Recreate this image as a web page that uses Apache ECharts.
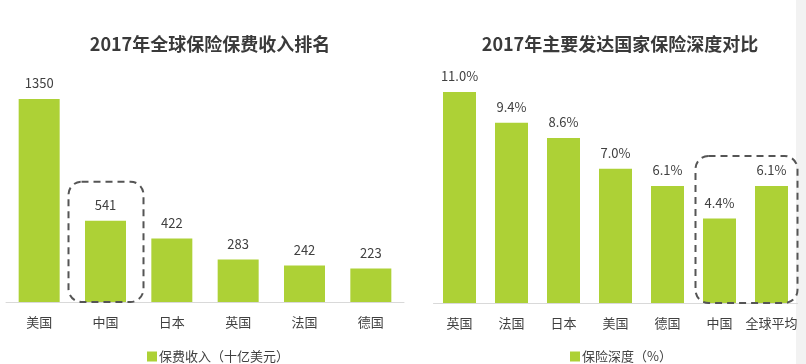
<!DOCTYPE html>
<html><head><meta charset="utf-8">
<script src="https://cdn.jsdelivr.net/npm/echarts@6/dist/echarts.min.js"></script>
<style>html,body{margin:0;padding:0;background:#fff}#c{width:806px;height:364px}</style>
</head><body><div id="c"></div>
<script>
const leftTitle = '2017年全球保险保费收入排名';
const rightTitle = '2017年主要发达国家保险深度对比';
const leftCats = ['美国','中国','日本','英国','法国','德国'];
const leftVals = [1350, 541, 422, 283, 242, 223];
const leftName = '保费收入（十亿美元）';
const rightCats = ['英国','法国','日本','美国','德国','中国','全球平均'];
const rightVals = [11.0, 9.4, 8.6, 7.0, 6.1, 4.4, 6.1];
const rightName = '保险深度（%）';

const green = '#add136';
const txt = '#404040';
const font = '"Noto Sans CJK SC", "Noto Sans", sans-serif';

const chart = echarts.init(document.getElementById('c'));
const catAxis = (i, data) => ({
  type: 'category', gridIndex: i, data,
  axisLine: {lineStyle: {color: '#d9d9d9', width: 1}},
  axisTick: {show: false},
  axisLabel: {color: txt, fontSize: 13, fontFamily: font, margin: 14, interval: 0}
});
const valAxis = (i, max) => ({
  type: 'value', gridIndex: i, min: 0, max, show: false, splitLine: {show: false}
});
chart.setOption({
  animation: false,
  textStyle: {fontFamily: font},
  title: [
    {text: leftTitle, left: 205, top: 30, textAlign: 'center',
     textStyle: {fontSize: 18, fontWeight: 'bold', color: '#3a3a3a', fontFamily: font}},
    {text: rightTitle, left: 615, top: 30, textAlign: 'center',
     textStyle: {fontSize: 18, fontWeight: 'bold', color: '#3a3a3a', fontFamily: font}}
  ],
  legend: [
    {data: [leftName], left: 142, top: 345, itemWidth: 10, itemHeight: 10,
     textStyle: {color: txt, fontSize: 13, fontFamily: font, padding: [0,0,0,-3]}, icon: 'rect'},
    {data: [rightName], left: 565, top: 345, itemWidth: 10, itemHeight: 10,
     textStyle: {color: txt, fontSize: 13, fontFamily: font, padding: [0,0,0,-3]}, icon: 'rect'}
  ],
  grid: [
    {left: 6, width: 398, top: 99, bottom: 62},
    {left: 433.5, width: 364, top: 92, bottom: 61}
  ],
  xAxis: [catAxis(0, leftCats), catAxis(1, rightCats)],
  yAxis: [valAxis(0, 1350), valAxis(1, 11)],
  series: [
    {name: leftName, type: 'bar', xAxisIndex: 0, yAxisIndex: 0, data: leftVals, barWidth: 41,
     itemStyle: {color: green},
     label: {show: true, position: 'top', distance: 9, color: txt, fontSize: 13, fontFamily: font}},
    {name: rightName, type: 'bar', xAxisIndex: 1, yAxisIndex: 1, data: rightVals, barWidth: 33,
     itemStyle: {color: green},
     label: {show: true, position: 'top', distance: 9, color: txt, fontSize: 13, fontFamily: font,
       formatter: p => p.value.toFixed(1) + '%'}}
  ]
});
function box(gi, catIdxA, catIdxB, val, padL, padR, padTop) {
  const a = chart.convertToPixel({gridIndex: gi}, [catIdxA, 0]);
  const b = chart.convertToPixel({gridIndex: gi}, [catIdxB, 0]);
  const t = chart.convertToPixel({gridIndex: gi}, [catIdxA, val]);
  const x0 = a[0] - padL, x1 = b[0] + padR, y0 = t[1] - padTop, y1 = a[1];
  return {type: 'rect', shape: {x: x0, y: y0, width: x1 - x0, height: y1 - y0, r: 13},
    style: {fill: 'none', stroke: '#555', lineWidth: 2, lineDash: [7, 5]}, z: 10};
}
chart.setOption({
  graphic: [
    {type: 'rect', shape: {x: 796, y: 0, width: 10, height: 364}, style: {fill: '#f2f2f2'}, z: -1},
    box(0, 1, 1, 541, 37, 38, 39),
    box(1, 5, 6, 6.1, 24, 26, 30)
  ]
});
</script></body></html>
